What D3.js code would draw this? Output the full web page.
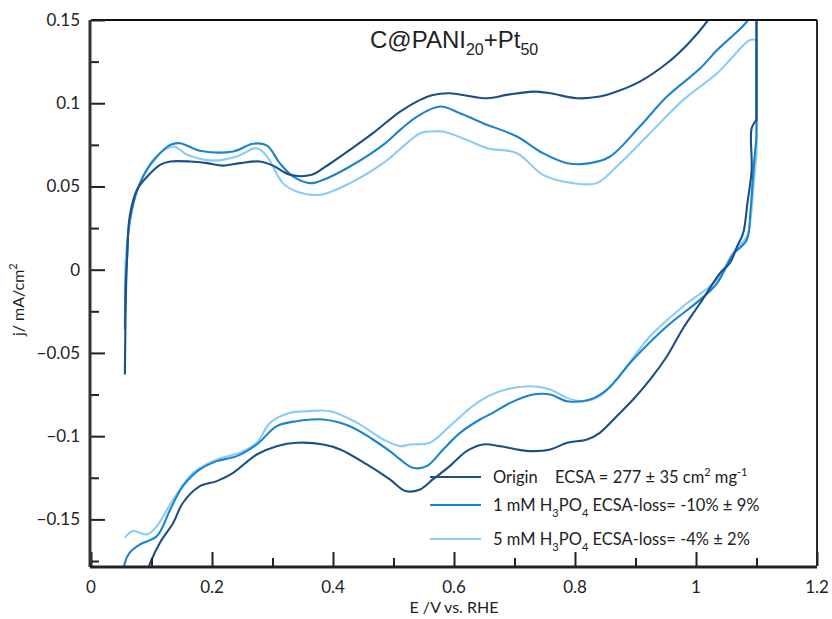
<!DOCTYPE html>
<html>
<head>
<meta charset="utf-8">
<script src="https://cdn.jsdelivr.net/npm/d3@7"></script>
<style>
body { margin: 0; background: #fff; }
text { font-family: Lato, "Open Sans", sans-serif; fill: #222; }
</style>
</head>
<body>
<div id="plot"></div>
<script>
// values: [E (V vs RHE), j (mA/cm2)]
let originUp = [[0.056,-0.063],[0.057,-0.030],[0.058,-0.010],[0.060,0.010],[0.064,0.032],[0.076,0.048],[0.093,0.056],[0.114,0.063],[0.131,0.065],[0.164,0.065],[0.192,0.064],[0.218,0.0625],[0.246,0.064],[0.279,0.065],[0.301,0.0625],[0.329,0.057],[0.365,0.057],[0.384,0.061],[0.428,0.072],[0.466,0.082],[0.511,0.095],[0.544,0.102],[0.565,0.105],[0.593,0.106],[0.655,0.103],[0.687,0.105],[0.731,0.107],[0.759,0.106],[0.803,0.103],[0.841,0.104],[0.869,0.107],[0.907,0.113],[0.952,0.124],[0.985,0.135],[1.018,0.149],[1.05,0.168],[1.1,0.2]];
let originDown = [[1.1,0.09],[1.092,0.085],[1.092,0.06],[1.085,0.04],[1.078,0.022],[1.068,0.014],[1.056,0.004],[1.040,-0.002],[1.007,-0.020],[0.979,-0.035],[0.952,-0.052],[0.924,-0.066],[0.896,-0.078],[0.869,-0.088],[0.841,-0.098],[0.820,-0.102],[0.787,-0.104],[0.759,-0.108],[0.731,-0.109],[0.704,-0.108],[0.676,-0.106],[0.648,-0.105],[0.621,-0.109],[0.593,-0.118],[0.565,-0.126],[0.544,-0.132],[0.520,-0.133],[0.494,-0.126],[0.456,-0.117],[0.412,-0.108],[0.384,-0.105],[0.340,-0.104],[0.307,-0.106],[0.274,-0.111],[0.235,-0.122],[0.208,-0.127],[0.180,-0.130],[0.152,-0.140],[0.136,-0.152],[0.114,-0.164],[0.098,-0.176],[0.090,-0.185]];

let mM1Up = [[0.056,-0.036],[0.057,-0.010],[0.060,0.010],[0.062,0.024],[0.073,0.044],[0.089,0.058],[0.109,0.068],[0.131,0.075],[0.147,0.076],[0.180,0.0715],[0.235,0.071],[0.268,0.0757],[0.291,0.0745],[0.312,0.064],[0.334,0.056],[0.362,0.052],[0.384,0.054],[0.428,0.062],[0.483,0.075],[0.511,0.084],[0.539,0.092],[0.577,0.098],[0.610,0.094],[0.648,0.088],[0.704,0.080],[0.747,0.070],[0.787,0.064],[0.825,0.064],[0.858,0.068],[0.907,0.086],[0.952,0.104],[1.007,0.121],[1.035,0.132],[1.056,0.139],[1.084,0.149],[1.1,0.16]];
let mM1Down = [[1.1,0.08],[1.095,0.06],[1.09,0.035],[1.084,0.018],[1.061,0.009],[1.035,-0.008],[1.007,-0.018],[0.952,-0.034],[0.896,-0.054],[0.853,-0.072],[0.825,-0.078],[0.787,-0.079],[0.759,-0.075],[0.731,-0.075],[0.693,-0.080],[0.664,-0.086],[0.643,-0.090],[0.610,-0.098],[0.582,-0.108],[0.555,-0.118],[0.532,-0.119],[0.511,-0.114],[0.494,-0.109],[0.466,-0.102],[0.428,-0.094],[0.384,-0.090],[0.340,-0.091],[0.307,-0.094],[0.274,-0.105],[0.241,-0.112],[0.208,-0.115],[0.180,-0.120],[0.152,-0.130],[0.131,-0.144],[0.109,-0.160],[0.081,-0.165],[0.064,-0.170],[0.056,-0.176],[0.054,-0.185]];

let mM5Up = [[0.056,-0.018],[0.058,0.010],[0.068,0.036],[0.081,0.052],[0.103,0.066],[0.136,0.074],[0.159,0.069],[0.202,0.0655],[0.241,0.068],[0.274,0.073],[0.291,0.068],[0.317,0.052],[0.340,0.047],[0.379,0.045],[0.428,0.052],[0.483,0.064],[0.544,0.082],[0.560,0.083],[0.582,0.083],[0.621,0.078],[0.655,0.073],[0.704,0.070],[0.747,0.057],[0.797,0.052],[0.836,0.052],[0.869,0.062],[0.924,0.082],[0.979,0.102],[1.035,0.118],[1.056,0.126],[1.089,0.138],[1.1,0.138]];
let mM5Down = [[1.1,0.07],[1.095,0.05],[1.09,0.03],[1.084,0.02],[1.061,0.010],[1.035,-0.006],[0.979,-0.022],[0.924,-0.040],[0.869,-0.066],[0.841,-0.076],[0.813,-0.079],[0.787,-0.077],[0.759,-0.072],[0.726,-0.070],[0.676,-0.073],[0.638,-0.080],[0.593,-0.094],[0.560,-0.104],[0.527,-0.105],[0.511,-0.106],[0.483,-0.102],[0.440,-0.092],[0.395,-0.085],[0.357,-0.085],[0.329,-0.086],[0.296,-0.092],[0.274,-0.104],[0.246,-0.110],[0.208,-0.114],[0.169,-0.122],[0.136,-0.138],[0.109,-0.154],[0.093,-0.159],[0.069,-0.157],[0.056,-0.161]];

let seriesNames = ['Origin', '1 mM H3PO4', '5 mM H3PO4'];
let seriesColors = ['#1c4f86', '#1a84cc', '#8ccbf5'];
let yTicks = [-0.15, -0.1, -0.05, 0, 0.05, 0.1, 0.15];
let xTicks = [0, 0.2, 0.4, 0.6, 0.8, 1, 1.2];

let svgWidth = 832, svgHeight = 619;
let margin = {top: 20, right: 15, bottom: 53, left: 91};
let width = svgWidth - margin.left - margin.right;
let height = svgHeight - margin.top - margin.bottom;

let svg = d3.select('#plot')
    .append('svg')
        .attr('width', svgWidth)
        .attr('height', svgHeight)
        .append('g')
            .attr('transform', `translate(${margin.left}, ${margin.top})`);

let x = d3.scaleLinear().domain([0, 1.2]).range([0, width]);
let y = d3.scaleLinear().domain([-0.178, 0.15]).range([height, 0]);

svg.append('clipPath').attr('id', 'clip')
    .append('rect').attr('width', width).attr('height', height);

let smooth = d3.line().x(d => x(d[0])).y(d => y(d[1])).curve(d3.curveCatmullRom.alpha(0.5));

// each sweep is smoothed on its own, the drop at the vertex stays straight
let curves = [[originUp, originDown], [mM1Up, mM1Down], [mM5Up, mM5Down]];
[2, 1, 0].forEach(i => {
    let up = curves[i][0], down = curves[i][1];
    let d = smooth(up) + 'L' + x(down[0][0]) + ',' + y(down[0][1]) + smooth(down).replace(/^M/, 'L');
    svg.append('path')
        .attr('clip-path', 'url(#clip)')
        .attr('d', d)
        .attr('fill', 'none')
        .attr('stroke', seriesColors[i])
        .attr('stroke-width', 2.1)
        .attr('stroke-linejoin', 'round');
});

// frame: top and right thin
svg.append('line').attr('x1', 0).attr('x2', width).attr('y1', 0).attr('y2', 0)
    .attr('stroke', '#111').attr('stroke-width', 1.8);
svg.append('line').attr('x1', width).attr('x2', width).attr('y1', 0).attr('y2', height)
    .attr('stroke', '#111').attr('stroke-width', 1.8);

// inward ticks
let yAxis = d3.axisRight(y).tickValues(d3.range(-0.175, 0.1501, 0.025)).tickSize(0).tickFormat('');
let yg = svg.append('g').call(yAxis);
yg.select('.domain').remove();
yg.selectAll('.tick line')
    .attr('x2', d => Math.abs(Math.round(d * 1000) % 50) === 0 ? 14 : 8)
    .attr('stroke', '#222').attr('stroke-width', 2);

let xAxis = d3.axisTop(x).tickValues(d3.range(0, 1.21, 0.1)).tickSize(0).tickFormat('');
let xg = svg.append('g').attr('transform', `translate(0,${height})`).call(xAxis);
xg.select('.domain').remove();
xg.selectAll('.tick line')
    .attr('y2', d => Math.round(d * 10) % 2 === 0 ? -14 : -8)
    .attr('stroke', '#222').attr('stroke-width', 2);

// thick left and bottom axes
svg.append('line').attr('x1', -1).attr('x2', -1).attr('y1', 0).attr('y2', height + 1)
    .attr('stroke', '#333').attr('stroke-width', 3);
svg.append('line').attr('x1', -1).attr('x2', width).attr('y1', height + 1).attr('y2', height + 1)
    .attr('stroke', '#222').attr('stroke-width', 3);

// tick labels
let fmt = v => (v < 0 ? '\u2212' : '') + String(Math.abs(+v.toFixed(2)));
svg.selectAll('.ylab').data(yTicks).join('text')
    .attr('x', -11).attr('y', d => y(d)).attr('dy', '0.35em')
    .attr('text-anchor', 'end').attr('font-size', 17)
    .text(fmt);
svg.selectAll('.xlab').data(xTicks).join('text')
    .attr('x', d => x(d)).attr('y', height + 27)
    .attr('text-anchor', 'middle').attr('font-size', 17)
    .text(d => String(+d.toFixed(1)));

// axis titles
svg.append('text').attr('x', width / 2).attr('y', height + 47)
    .attr('text-anchor', 'middle').attr('font-size', 16)
    .text('E /V vs. RHE');
let yt = svg.append('text')
    .attr('transform', `translate(${-67},${y(-0.018)}) rotate(-90)`)
    .attr('text-anchor', 'middle').attr('font-size', 16);
yt.append('tspan').text('j/ mA/cm');
yt.append('tspan').attr('dy', -7).attr('font-size', 11).text('2');

// title
let title = svg.append('text').attr('x', 279).attr('y', 28)
    .attr('font-size', 24)
    .style('font-family', '"Liberation Sans", Arial, sans-serif');
title.append('tspan').text('C@PANI');
title.append('tspan').attr('dy', 7).attr('font-size', 16).text('20');
title.append('tspan').attr('dy', -7).text('+Pt');
title.append('tspan').attr('dy', 7).attr('font-size', 16).text('50');

// legend
let legendY = [457, 485, 519];
let legend = svg.append('g');
seriesNames.forEach((name, i) => {
    legend.append('line')
        .attr('x1', 339).attr('x2', 390)
        .attr('y1', legendY[i]).attr('y2', legendY[i])
        .attr('stroke', seriesColors[i]).attr('stroke-width', 2);
});
let l0 = legend.append('text').attr('x', 402).attr('y', legendY[0]).attr('dy', '0.35em').attr('font-size', 16.5);
l0.append('tspan').text('Origin');
l0.append('tspan').attr('x', 464).text('ECSA = 277 \u00b1 35 cm');
l0.append('tspan').attr('dy', -7).attr('font-size', 11).text('2');
l0.append('tspan').attr('dy', 7).text(' mg');
l0.append('tspan').attr('dy', -7).attr('font-size', 11).text('-1');

let lossText = ['ECSA-loss= -10% \u00b1 9%', 'ECSA-loss= -4% \u00b1 2%'];
[1, 2].forEach(i => {
    let t = legend.append('text').attr('x', 402).attr('y', legendY[i]).attr('dy', '0.35em').attr('font-size', 16.5);
    t.append('tspan').text(i === 1 ? '1 mM H' : '5 mM H');
    t.append('tspan').attr('dy', 6).attr('font-size', 11).text('3');
    t.append('tspan').attr('dy', -6).text('PO');
    t.append('tspan').attr('dy', 6).attr('font-size', 11).text('4');
    t.append('tspan').attr('dy', -6).text(' ' + lossText[i - 1]);
});
</script>
</body>
</html>
